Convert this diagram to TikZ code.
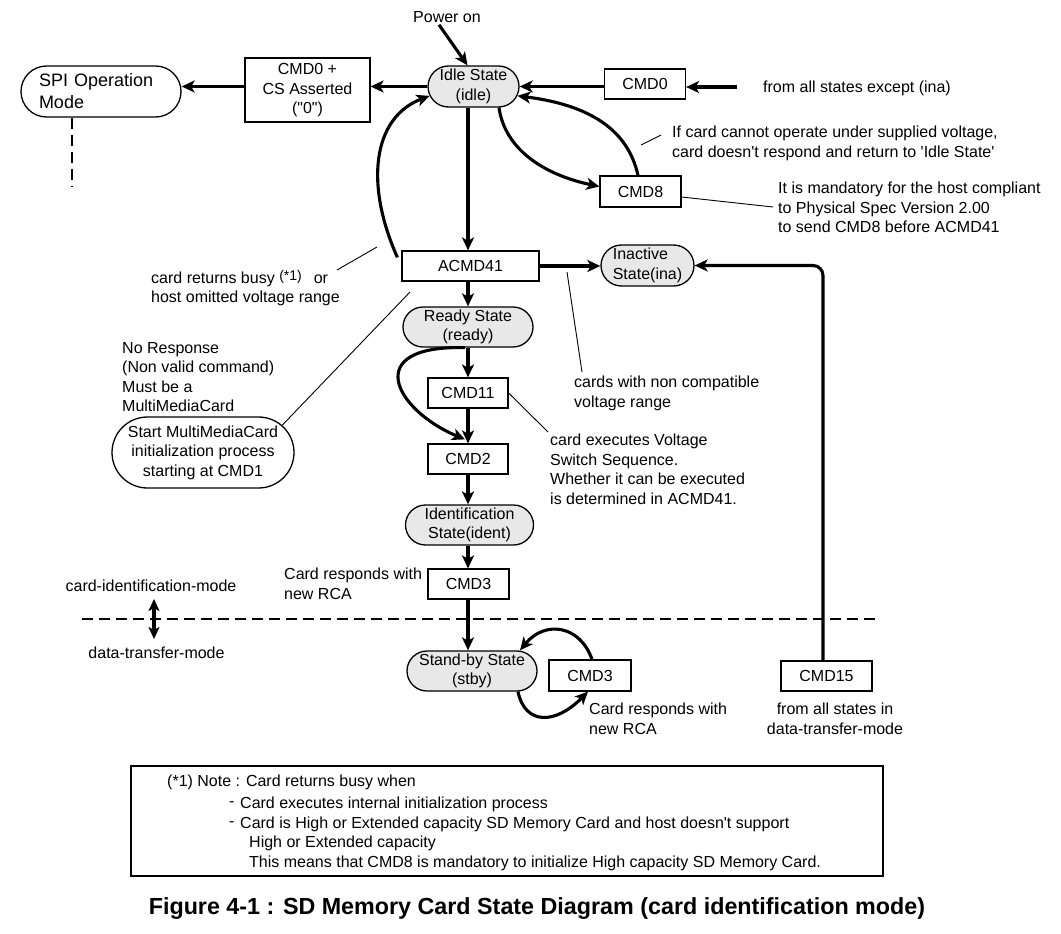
\documentclass[tikz,border=0pt]{standalone}
\usepackage{fontspec}
\setmainfont{Liberation Sans}
\usetikzlibrary{arrows.meta,shapes.misc,calc}
\definecolor{stfill}{RGB}{232,232,232}
\begin{document}
\begin{tikzpicture}[x=1pt,y=-1pt,
  font=\fontsize{16}{19.5}\selectfont,
  cbox/.style={draw, line width=1.2pt, fill=white, inner sep=0pt, align=center},
  state/.style={rounded rectangle, draw, line width=1.3pt, fill=stfill, inner sep=0pt, align=center},
  oval/.style={rounded rectangle, draw, line width=1.3pt, fill=white, inner sep=0pt, align=center},
  arr/.style={line width=3.1pt, -{Stealth[length=13pt,width=12pt,inset=3.5pt]}},
  darr/.style={line width=3.1pt, {Stealth[length=12pt,width=11pt,inset=3pt]}-{Stealth[length=12pt,width=11pt,inset=3pt]}},
  ann/.style={line width=0.9pt},
  bigdash/.style={line width=2.6pt, dash pattern=on 11pt off 6pt},
  txt/.style={inner sep=0pt, align=left, anchor=north west},
  ltxt/.style={inner sep=0pt, anchor=west}
]
\useasboundingbox (0,0) rectangle (1061,934);

% ---- nodes ----
\node[inner sep=0pt] (pwr) at (447,17) {Power on};
\node[state, minimum width=91, minimum height=41] (idle) at (473.5,86.5) {Idle State\\(idle)};
\node[cbox, minimum width=125, minimum height=64] (cmdcs) at (307.5,90) {\rule{0pt}{12pt}CMD0 +\\CS Asserted\\(\textquotedbl0\textquotedbl)};
\node[oval, minimum width=160, minimum height=51, text width=124, align=left, font=\fontsize{18}{22}\selectfont] (spi) at (101,91.5) {SPI Operation\\Mode};
\node[cbox, minimum width=81, minimum height=30] (cmd0) at (645,84) {CMD0};
\node[ltxt] (allt) at (763,88) {from all states except (ina)};
\node[cbox, minimum width=81, minimum height=31] (cmd8) at (640.5,191.5) {CMD8};
\node[txt] (volt) at (672,126) {If card cannot operate under supplied voltage,\\card doesn\textquotesingle t respond and return to \textquotesingle Idle State\textquotesingle};
\node[txt] (mand) at (778,182) {It is mandatory for the host compliant\\to Physical Spec Version 2.00\\to send CMD8 before ACMD41};
\node[cbox, minimum width=137, minimum height=30] (acmd41) at (470.5,266) {ACMD41};
\node[state, minimum width=93, minimum height=41, align=left] (ina) at (647.5,265.5) {Inactive\\State(ina)};
\node[txt] (busy) at (151,270) {card returns busy \raisebox{3pt}{\fontsize{14}{15}\selectfont(*1)}\hspace{12pt}or\\host omitted voltage range};
\node[state, minimum width=130, minimum height=40] (ready) at (468,327) {Ready State\\(ready)};
\node[txt] (nores) at (122,342) {No Response\\(Non valid command)\\Must be a\\MultiMediaCard};
\node[oval, minimum width=182, minimum height=71] (mmc) at (203,452.5) {Start MultiMediaCard\\initialization process\\starting at CMD1};
\node[txt] (noncomp) at (574,376) {cards with non compatible\\voltage range};
\node[cbox, minimum width=80, minimum height=30] (cmd11) at (468,393) {CMD11};
\node[cbox, minimum width=80, minimum height=30] (cmd2) at (468,459) {CMD2};
\node[txt] (vss) at (550,434) {card executes Voltage\\Switch Sequence.\\Whether it can be executed\\is determined in ACMD41.};
\node[state, minimum width=128, minimum height=40] (ident) at (469.5,525) {Identification\\State(ident)};
\node[cbox, minimum width=81, minimum height=30] (cmd3) at (468.5,584) {CMD3};
\node[txt] (rca1) at (284,568) {Card responds with\\new RCA};
\node[inner sep=0pt] (cim) at (151,586) {card-identification-mode};
\node[inner sep=0pt] (dtm) at (156.5,653) {data-transfer-mode};
\node[state, minimum width=130, minimum height=40] (stby) at (472,671) {Stand-by State\\(stby)};
\node[cbox, minimum width=82, minimum height=31] (cmd3b) at (590,675.5) {CMD3};
\node[txt] (rca2) at (589,703) {Card responds with\\new RCA};
\node[cbox, minimum width=91, minimum height=30] (cmd15) at (826.5,676) {CMD15};
\node[inner sep=0pt, align=center, anchor=north] (fromdt) at (835,703) {from all states in\\data-transfer-mode};

% note box
\node[draw, line width=1.2pt, minimum width=752, minimum height=110, inner sep=0pt] (notebox) at (507,821) {};
\node[ltxt] (n1) at (167,782) {(*1) Note : Card returns busy when};
\node[ltxt] (d1) at (229,804) {-};
\node[ltxt] (n2) at (240,804) {Card executes internal initialization process};
\node[ltxt] (d2) at (229,824) {-};
\node[ltxt] (n3) at (240,824) {Card is High or Extended capacity SD Memory Card and host doesn\textquotesingle t support};
\node[ltxt] (n4) at (249,843) {High or Extended capacity};
\node[ltxt] (n5) at (249,863) {This means that CMD8 is mandatory to initialize High capacity SD Memory Card.};

\node[inner sep=0pt, font=\bfseries\fontsize{23.3}{27}\selectfont] (cap) at (537,909) {Figure 4-1 : SD Memory Card State Diagram (card identification mode)};

% ---- coordinates for free ends ----
\coordinate (spid) at (72,187);
\coordinate (allst) at (737,87);
\coordinate (a1s) at (377,247); \coordinate (a1e) at (337,270);
\coordinate (a2s) at (410,292);
\coordinate (a3s) at (567,272); \coordinate (a3e) at (582,372);
\coordinate (a4e) at (548,432);
\coordinate (a5e) at (773,207);
\coordinate (a6s) at (641,145); \coordinate (a6e) at (661,135);
\coordinate (dl) at (82,619); \coordinate (dr) at (876,619);
\coordinate (mt) at (154,599); \coordinate (mb) at (154,639);

% ---- connectors ----
\draw[arr] ($(pwr.south)+(-8,2)$) -- ($(idle.north)+(-6,0)$);
\draw[arr] (idle.west) -- (idle.west -| cmdcs.east);
\draw[arr] (idle.west -| cmdcs.west) -- (idle.west -| spi.east);
\draw[bigdash, line width=2.4pt] (spid |- spi.south) -- (spid);
\draw[arr] (allst) -- (allst -| cmd0.east);
\draw[arr] (cmd0.west |- idle.east) -- (idle.east);
\draw[arr] ($(idle.south)+(25.5,0)$) .. controls (505,150) and (545,175) .. ($(cmd8.west)+(0,-5)$);
\draw[arr] ($(cmd8.north)+(-2.5,0)$) .. controls (628,130) and (590,105) .. (idle.-12);
\draw[arr] ($(acmd41.north west)+(-4,7)$) .. controls (365,185) and (372,118) .. (idle.192);
\draw[arr] (ready |- idle.south) -- (ready |- acmd41.north);
\draw[arr] (ready |- acmd41.south) -- (ready.north);
\draw[arr] (acmd41.east) -- (acmd41.east -| ina.west);
\draw[arr, rounded corners=10pt] ($(cmd15.north)+(-3.5,0)$) |- (ina.east);
\draw[arr] (ready.south) -- (cmd11.north);
\draw[arr] (cmd11.south) -- (cmd2.north);
\draw[arr] ($(ready.south)+(-3,0)$) .. controls (360,345) and (395,410) .. ($(cmd2.north)+(-3,-4)$);
\draw[arr] (cmd2.south) -- (ready |- ident.north);
\draw[arr] (ready |- ident.south) -- (ready |- cmd3.north);
\draw[arr] (ready |- cmd3.south) -- (ready |- stby.north);
\draw[arr] ($(cmd3b.north)+(2,0)$) .. controls (580,625) and (545,620) .. ($(stby.north)+(48,0)$);
\draw[arr] ($(stby.south)+(46,0)$) .. controls (525,725) and (555,725) .. ($(cmd3b.south)+(-2,0)$);
\draw[bigdash] (dl) -- (dr);
\draw[darr] (mt) -- (mb);

% annotation lines
\draw[ann] (a1s) -- (a1e);
\draw[ann] (a2s) -- (mmc.19);
\draw[ann] (a3s) -- (a3e);
\draw[ann] (cmd11.east) -- (a4e);
\draw[ann] ($(cmd8.east)+(0,5.5)$) -- (a5e);
\draw[ann] (a6s) -- (a6e);
\end{tikzpicture}
\end{document}
